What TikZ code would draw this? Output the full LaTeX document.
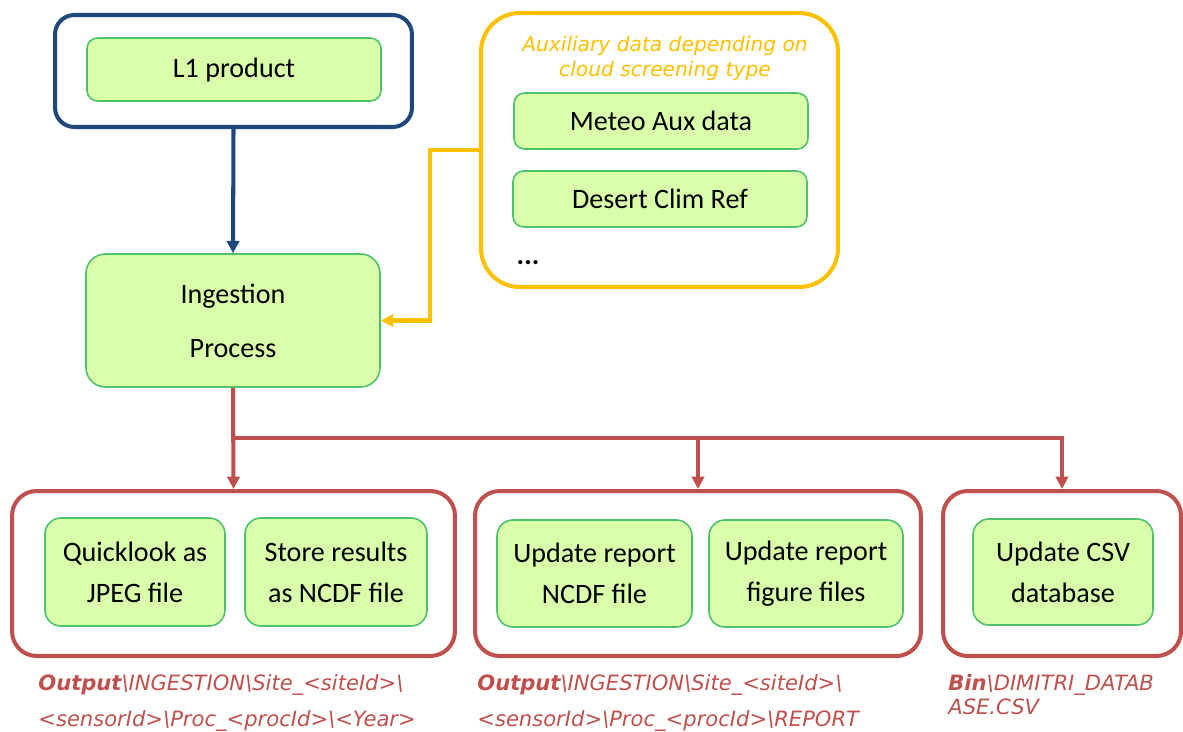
\documentclass[tikz,border=0pt]{standalone}
\usepackage{fontspec}
\setmainfont{Carlito}
\newfontfamily\pathfont{DejaVu Sans}
\usetikzlibrary{arrows.meta}
\definecolor{NavyLine}{HTML}{1F497D}
\definecolor{AuxYellow}{HTML}{FFC000}
\definecolor{OutRed}{HTML}{C0504D}
\definecolor{StepFill}{HTML}{D9FFAB}
\definecolor{StepLine}{HTML}{4CC36A}
\begin{document}
\begin{tikzpicture}[x=0.02cm,y=-0.02cm]
\tikzstyle{every node}=[font=\fontsize{16}{23.2}\selectfont]
\tikzstyle{greenbox}=[draw=StepLine, fill=StepFill, line width=0.9pt, rounded corners=6pt, align=center, inner sep=0pt]
\tikzstyle{frame}=[line width=2.3pt, fill=white, inner sep=0pt]
\tikzstyle{pathlabel}=[anchor=base west, align=left, inner sep=0pt, text=OutRed, font=\pathfont\itshape\fontsize{12}{20.4}\selectfont]
\tikzstyle{flow}=[line width=2.3pt, -{Triangle[length=7pt,width=7pt]}]
\useasboundingbox (0,0) rectangle (1183,731);
% input product
\node[frame, draw=NavyLine, rounded corners=11pt, minimum width=7.14cm, minimum height=2.24cm] (L1Frame) at (233.5,71) {};
\node[greenbox, minimum width=5.88cm, minimum height=1.26cm] (L1Product) at (234,69.5) {L1 product};
% auxiliary data
\node[frame, draw=AuxYellow, rounded corners=22pt, minimum width=7.14cm, minimum height=5.48cm] (AuxFrame) at (659.5,150) {};
\node[align=center, text=AuxYellow, font=\pathfont\itshape\fontsize{11.5}{14.2}\selectfont] (AuxCaption) at (665,58) {Auxiliary data depending on\\cloud screening type};
\node[greenbox, minimum width=5.88cm, minimum height=1.12cm] (MeteoAux) at (661,121) {Meteo Aux data};
\node[greenbox, minimum width=5.88cm, minimum height=1.12cm] (DesertClim) at (660,199) {Desert Clim Ref};
\node[inner sep=0pt] (AuxDots) at (528,263) {\textbf{...}};
% ingestion
\node[greenbox, rounded corners=11pt, minimum width=5.88cm, minimum height=2.66cm, font=\fontsize{16}{30.6}\selectfont] (Ingestion) at (233,320.5) {Ingestion\\Process};
% outputs
\node[frame, draw=OutRed, rounded corners=14pt, minimum width=8.86cm, minimum height=3.3cm] (QuickFrame) at (233.5,573.5) {};
\node[greenbox, rounded corners=9pt, minimum width=3.6cm, minimum height=2.16cm] (QuickLook) at (135,572) {Quicklook as\\JPEG file};
\node[greenbox, rounded corners=9pt, minimum width=3.64cm, minimum height=2.16cm] (StoreNcdf) at (336,572) {Store results\\as NCDF file};
\node[frame, draw=OutRed, rounded corners=14pt, minimum width=8.92cm, minimum height=3.3cm] (ReportFrame) at (698,573.5) {};
\node[greenbox, rounded corners=9pt, minimum width=3.9cm, minimum height=2.14cm] (ReportNcdf) at (594.5,573.5) {Update report\\NCDF file};
\node[greenbox, rounded corners=9pt, minimum width=3.88cm, minimum height=2.14cm] (ReportFig) at (806,573.5) {Update report\\figure files};
\node[frame, draw=OutRed, rounded corners=14pt, minimum width=4.76cm, minimum height=3.3cm] (CsvFrame) at (1062,573.5) {};
\node[greenbox, rounded corners=9pt, minimum width=3.6cm, minimum height=2.12cm] (CsvDatabase) at (1063,572) {Update CSV\\database};
% output folders (anchored on last baseline)
\node[pathlabel] (QuickPath) at (38,726) {\textbf{Output}\textbackslash INGESTION\textbackslash Site\_<siteId>\textbackslash\\<sensorId>\textbackslash Proc\_<procId>\textbackslash <Year>};
\node[pathlabel] (ReportPath) at (477,726) {\textbf{Output}\textbackslash INGESTION\textbackslash Site\_<siteId>\textbackslash\\<sensorId>\textbackslash Proc\_<procId>\textbackslash REPORT};
\node[pathlabel, font=\pathfont\itshape\fontsize{12}{13.6}\selectfont] (CsvPath) at (948,714) {\textbf{Bin}\textbackslash DIMITRI\_DATAB\\ASE.CSV};
% connectors
\coordinate (Branch) at (233,438);
\draw[flow, NavyLine] (L1Frame.south) -- (Ingestion.north);
\draw[flow, AuxYellow] (AuxFrame.west) -- ++(-49,0) |- (Ingestion.east);% feed aux data
\draw[flow, OutRed] (Ingestion.south) -- (QuickFrame.north);
\draw[flow, OutRed] (Branch) -| (ReportFrame.north);
\draw[flow, OutRed] (Branch) -| (CsvFrame.north);
\end{tikzpicture}
\end{document}
